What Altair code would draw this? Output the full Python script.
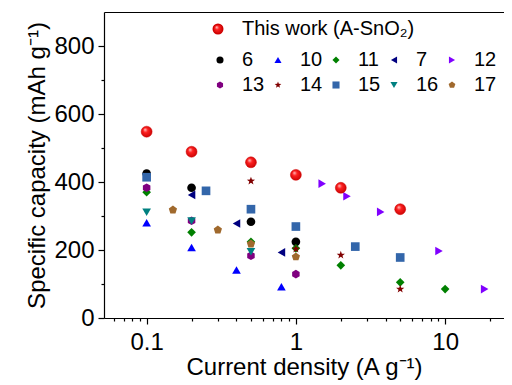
import altair as alt
import pandas as pd

# ---------------- data ----------------
this_x = [0.1, 0.2, 0.5, 1, 2, 5]
this_y = [548, 489, 458, 421, 383, 320]

s6_x = [0.1, 0.2, 0.5, 1]
s6_y = [425, 383, 283, 224]
s10_x = [0.1, 0.2, 0.4, 0.8]
s10_y = [280, 207, 141, 92]
s11_x = [0.1, 0.2, 0.5, 1, 2, 5, 10]
s11_y = [370, 252, 224, 205, 155, 105, 85]
s7_x = [0.2, 0.4, 0.8]
s7_y = [362, 278, 193]
s12_x = [1.5, 2.2, 3.7, 9.1, 18.4]
s12_y = [395, 358, 312, 197, 85]
s13_x = [0.1, 0.2, 0.5, 1]
s13_y = [383, 286, 183, 129]
s14_x = [0.5, 1, 2, 5]
s14_y = [403, 203, 185, 85]
s15_x = [0.1, 0.25, 0.5, 1, 2.5, 5]
s15_y = [414, 374, 320, 269, 210, 178]
s16_x = [0.1, 0.2, 0.5]
s16_y = [311, 285, 195]
s17_x = [0.15, 0.3, 0.5, 1]
s17_y = [318, 259, 218, 180]

series_names = ["6", "10", "11", "7", "12", "13", "14", "15", "16", "17"]
series_xs = [s6_x, s10_x, s11_x, s7_x, s12_x, s13_x, s14_x, s15_x, s16_x, s17_x]
series_ys = [s6_y, s10_y, s11_y, s7_y, s12_y, s13_y, s14_y, s15_y, s16_y, s17_y]
series_colors = ["#000000", "#0000FF", "#008000", "#000080", "#8000FF",
                 "#800080", "#800000", "#3366AA", "#008080", "#A0692D"]

HEX = "M0,-1L0.866,-0.5L0.866,0.5L0,1L-0.866,0.5L-0.866,-0.5Z"
STAR = ("M0,-1L0.235,-0.324L0.951,-0.309L0.38,0.124L0.588,0.809L0,0.4"
        "L-0.588,0.809L-0.38,0.124L-0.951,-0.309L-0.235,-0.324Z")
PENT = "M0,-1L0.951,-0.309L0.588,0.809L-0.588,0.809L-0.951,-0.309Z"
series_shapes = ["circle", "triangle-up", "diamond", "triangle-left", "triangle-right",
                 HEX, STAR, "square", "triangle-down", PENT]

x_major = [0.1, 1, 10]
x_minor = [0.06, 0.07, 0.08, 0.09, 0.2, 0.3, 0.4, 0.5, 0.6, 0.7, 0.8, 0.9,
           2, 3, 4, 5, 6, 7, 8, 9, 20]
y_major = [0, 200, 400, 600, 800]
y_minor = [100, 300, 500, 700]

this_label = "This work (A-SnO\u2082)"

rows = []
for name, xs, ys in zip(series_names, series_xs, series_ys):
    for xv, yv in zip(xs, ys):
        rows.append({"series": name, "x": xv, "y": yv})
others = pd.DataFrame(rows)
this_df = pd.DataFrame({"series": this_label, "x": this_x, "y": this_y})

FONT = "Liberation Sans"
xscale = alt.Scale(type="log", domain=[0.0518, 24.8], nice=False)
yscale = alt.Scale(domain=[0, 900], nice=False)

sphere = alt.Gradient(
    gradient="radial",
    stops=[alt.GradientStop(offset=0, color="#ffd0d0"),
           alt.GradientStop(offset=0.35, color="#ff2020"),
           alt.GradientStop(offset=1, color="#c00000")],
    x1=0.35, y1=0.3, r1=0, x2=0.5, y2=0.5, r2=0.6,
)

legend_main = alt.Legend(title=None, orient="none", legendX=106, legendY=38,
                         direction="horizontal", columns=5, symbolSize=50,
                         labelFontSize=20, labelOffset=12, columnPadding=3,
                         rowPadding=5, padding=0, labelFont=FONT, labelLimit=300)

main_layer = alt.Chart(others).mark_point(filled=True, size=75, opacity=1).encode(
    x=alt.X("x:Q", scale=xscale,
            axis=alt.Axis(orient="bottom", values=x_major, format="~g",
                          title="Current density (A g\u207b\u00b9)",
                          tickSize=6, grid=False, labelPadding=6, titlePadding=1)),
    y=alt.Y("y:Q", scale=yscale,
            axis=alt.Axis(orient="left", values=y_major,
                          title="Specific capacity (mAh g\u207b\u00b9)",
                          tickSize=6, grid=False, labelPadding=4, titlePadding=4)),
    color=alt.Color("series:N", scale=alt.Scale(domain=series_names, range=series_colors),
                    legend=legend_main),
    shape=alt.Shape("series:N", scale=alt.Scale(domain=series_names, range=series_shapes),
                    legend=legend_main),
    order=alt.Order("idx:Q"),
).transform_calculate(idx="indexof(" + str(series_names) + ", datum.series)")

this_layer = alt.Chart(this_df).mark_point(filled=True, size=120, opacity=1, fill=sphere,
                                           stroke="#d00000", strokeWidth=0.5).encode(
    x=alt.X("x:Q", scale=xscale, axis=None),
    y=alt.Y("y:Q", scale=yscale, axis=None),
    shape=alt.Shape("series:N", scale=alt.Scale(domain=[this_label], range=["circle"]),
                    legend=alt.Legend(title=None, orient="none", legendX=104, legendY=7,
                                      symbolSize=90, labelFontSize=20, labelOffset=14,
                                      padding=0, labelFont=FONT, labelLimit=300)),
)

minor_layer = alt.Chart(this_df).mark_point(opacity=0).encode(
    x=alt.X("x:Q", scale=xscale,
            axis=alt.Axis(orient="bottom", values=x_minor, labels=False, tickSize=3,
                          domain=False, grid=False, title=None)),
    y=alt.Y("y:Q", scale=yscale,
            axis=alt.Axis(orient="left", values=y_minor, labels=False, tickSize=3,
                          domain=False, grid=False, title=None)),
)

top_layer = alt.Chart(this_df).mark_point(opacity=0).encode(
    x=alt.X("x:Q", scale=xscale,
            axis=alt.Axis(orient="top", labels=False, ticks=False, domain=True,
                          grid=False, title=None)),
)

chart = alt.layer(main_layer, this_layer, minor_layer, top_layer).resolve_scale(
    shape="independent", color="independent"
).resolve_axis(x="independent", y="independent").properties(
    width=400, height=306,
    autosize=alt.AutoSizeParams(type="none"),
    padding={"left": 96, "top": 4, "right": 0, "bottom": 66},
).configure_view(stroke=None).configure_axis(
    domainColor="black", tickColor="black", labelColor="black", titleColor="black",
    labelFont=FONT, titleFont=FONT, labelFontSize=24, titleFontSize=24,
    titleFontWeight="normal", domainWidth=1.2, tickWidth=1.2,
).configure_legend(labelColor="black")

chart.save("out.html", embed_options={"renderer": "svg", "actions": False})
